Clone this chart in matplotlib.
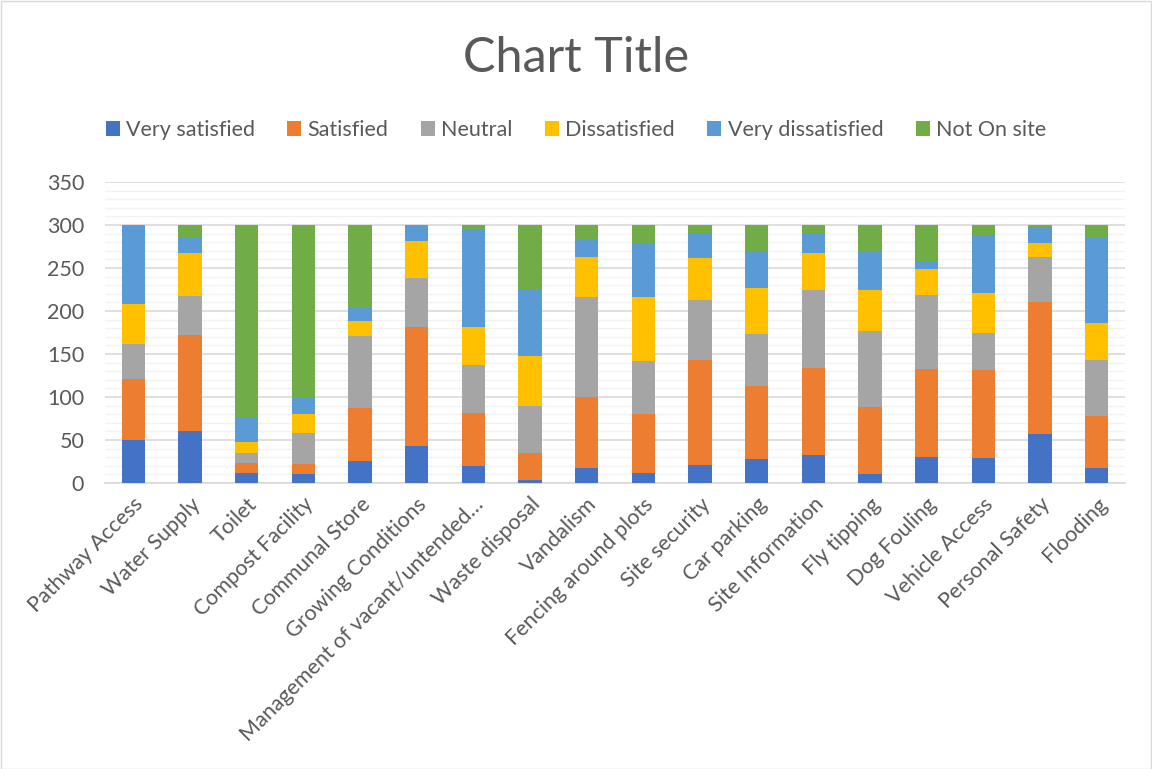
import matplotlib
matplotlib.use("Agg")
import matplotlib.pyplot as plt
import numpy as np
from matplotlib.patches import Rectangle

categories = ["Pathway Access", "Water Supply", "Toilet", "Compost Facility", "Communal Store",
              "Growing Conditions", "Management of vacant/untended…", "Waste disposal", "Vandalism",
              "Fencing around plots", "Site security", "Car parking", "Site Information",
              "Fly tipping", "Dog Fouling", "Vehicle Access", "Personal Safety", "Flooding"]

very_satisfied    = [50, 61, 12, 11, 26, 43, 20, 4, 18, 12, 21, 28, 33, 11, 30, 29, 57, 18]
satisfied         = [71, 111, 11, 11, 61, 138, 61, 31, 82, 68, 122, 85, 101, 77, 102, 102, 153, 60]
neutral           = [41, 45, 12, 36, 84, 57, 56, 55, 116, 62, 70, 60, 90, 89, 87, 44, 53, 65]
dissatisfied      = [46, 50, 13, 22, 17, 43, 44, 58, 47, 74, 49, 54, 43, 48, 30, 46, 16, 43]
very_dissatisfied = [92, 18, 28, 19, 16, 19, 113, 77, 19, 63, 27, 43, 22, 44, 9, 67, 17, 99]
not_on_site       = [0, 15, 224, 201, 96, 0, 6, 75, 18, 21, 11, 30, 11, 31, 42, 12, 4, 15]

series_names = ["Very satisfied", "Satisfied", "Neutral", "Dissatisfied", "Very dissatisfied", "Not On site"]
colors = ["#4472C4", "#ED7D31", "#A5A5A5", "#FFC000", "#5B9BD5", "#70AD47"]

plt.rcParams['font.family'] = ['Lato', 'DejaVu Sans']
text_color = "#595959"

fig = plt.figure(figsize=(11.52, 7.69), dpi=100)
ax = fig.add_axes([105/1152, 1 - 483/769, 1020/1152, 301/769])

x = np.arange(len(categories))
bottom = np.zeros(len(categories))
handles = []
for name, vals, c in zip(series_names,
                         [very_satisfied, satisfied, neutral, dissatisfied, very_dissatisfied, not_on_site],
                         colors):
    v = np.array(vals, dtype=float)
    b = ax.bar(x, v, 0.41, bottom=bottom, color=c, label=name, zorder=3, linewidth=0)
    handles.append(b)
    bottom += v

ax.set_xlim(-0.5, len(categories) - 0.5)
ax.set_ylim(0, 350)
ax.set_yticks(np.arange(0, 351, 50))
ax.set_yticks(np.arange(0, 351, 10), minor=True)
ax.grid(axis='y', which='major', color='#D9D9D9', linewidth=1.2, zorder=0)
ax.grid(axis='y', which='minor', color='#F2F2F2', linewidth=1.0, zorder=0)
ax.tick_params(axis='y', which='both', length=0, labelsize=15.5, labelcolor=text_color, pad=15)
ax.tick_params(axis='x', length=0, labelsize=15.5, labelcolor=text_color, pad=8)
ax.set_xticks(x)
ax.set_xticklabels(categories, rotation=45, ha='right', rotation_mode='anchor')
for s in ['top', 'right', 'left']:
    ax.spines[s].set_visible(False)
ax.spines['bottom'].set_color('#D9D9D9')
ax.spines['bottom'].set_linewidth(1.2)

fig.text(0.5, 1 - 58/769, "Chart Title", ha='center', va='center', fontsize=35,
         color=text_color)

leg = fig.legend(handles=handles, labels=series_names, loc='center', bbox_to_anchor=(0.5, 1 - 130/769),
                 ncol=6, frameon=False, fontsize=15.5, handlelength=0.65, handleheight=0.7,
                 handletextpad=0.3, columnspacing=1.5)
for t in leg.get_texts():
    t.set_color(text_color)

fig.patches.append(Rectangle((0.5/1152, 0.5/769), 1 - 1.5/1152, 1 - 1.5/769, transform=fig.transFigure,
                             fill=False, edgecolor='#D9D9D9', linewidth=1.0))

fig.savefig("out.png", dpi=100, facecolor='white')
